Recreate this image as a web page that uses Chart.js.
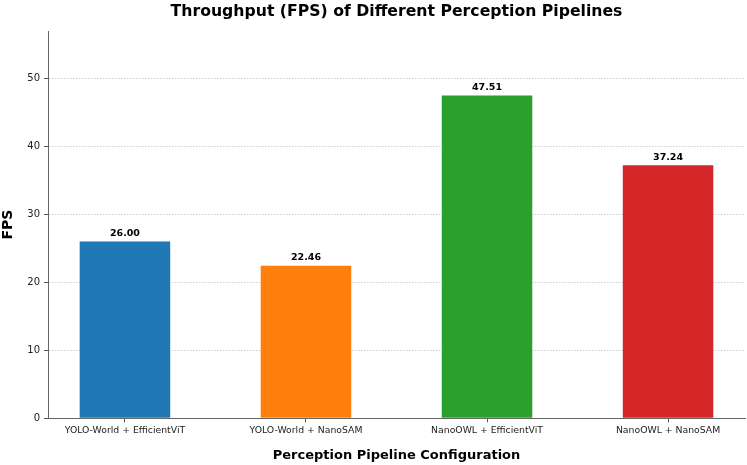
<!DOCTYPE html>
<html lang="en">
<head>
  <meta charset="UTF-8" />
  <title>Throughput (FPS) of Different Perception Pipelines</title>
  <script src="https://cdn.jsdelivr.net/npm/chart.js"></script>
  <style>
    html, body {
      margin: 0;
      padding: 0;
      background: #ffffff;
    }
    .chart-box {
      width: 747px;
      height: 465px;
    }
  </style>
</head>
<body>
  <div class="chart-box">
    <canvas id="fpsChart"></canvas>
  </div>

  <script>
    const pipelines = [
      'YOLO-World + EfficientViT',
      'YOLO-World + NanoSAM',
      'NanoOWL + EfficientViT',
      'NanoOWL + NanoSAM'
    ];
    const fpsValues = [26.00, 22.46, 47.51, 37.24];
    const barColors = ['#1f77b4', '#ff7f0e', '#2ca02c', '#d62728'];
    const yTicks = [0, 10, 20, 30, 40, 50];
    const chartTitle = 'Throughput (FPS) of Different Perception Pipelines';

    const FONT = "'DejaVu Sans', sans-serif";

    // value labels on top of each bar
    const valueLabels = {
      id: 'valueLabels',
      afterDatasetsDraw(chart) {
        const ctx = chart.ctx;
        const meta = chart.getDatasetMeta(0);
        ctx.save();
        ctx.font = 'bold 9.5px ' + FONT;
        ctx.fillStyle = '#000';
        ctx.textAlign = 'center';
        ctx.textBaseline = 'bottom';
        meta.data.forEach((bar, i) => {
          ctx.fillText(fpsValues[i].toFixed(2), bar.x, bar.y - 3);
        });
        ctx.restore();
      }
    };

    // title centred over the plot area, like matplotlib does
    const axesTitle = {
      id: 'axesTitle',
      afterDraw(chart) {
        const ctx = chart.ctx;
        const area = chart.chartArea;
        ctx.save();
        ctx.font = 'bold 15.7px ' + FONT;
        ctx.fillStyle = '#000';
        ctx.textAlign = 'center';
        ctx.textBaseline = 'middle';
        ctx.fillText(chartTitle, (area.left + area.right) / 2, 12);
        ctx.restore();
      }
    };

    new Chart(document.getElementById('fpsChart'), {
      type: 'bar',
      data: {
        datasets: [{
          data: fpsValues.map((v, i) => ({ x: i, y: v })),
          backgroundColor: barColors,
          borderWidth: 0,
          barPercentage: 0.5,
          categoryPercentage: 1.0
        }]
      },
      options: {
        responsive: true,
        maintainAspectRatio: false,
        animation: false,
        layout: { padding: { left: 0, right: 2, top: 31, bottom: 2 } },
        plugins: {
          legend: { display: false },
          tooltip: { enabled: false },
          title: { display: false }
        },
        scales: {
          x: {
            type: 'linear',
            min: -0.425,
            max: 3.425,
            offset: false,
            afterBuildTicks(axis) {
              axis.ticks = pipelines.map((_, i) => ({ value: i }));
            },
            ticks: {
              autoSkip: false,
              maxRotation: 0,
              color: '#222',
              font: { family: FONT, size: 9.3 },
              padding: 3,
              callback: (v) => pipelines[v]
            },
            grid: {
              offset: false,
              drawOnChartArea: false,
              drawTicks: true,
              tickLength: 4,
              tickColor: '#555'
            },
            border: { color: '#666', width: 1 },
            title: {
              display: true,
              text: 'Perception Pipeline Configuration',
              color: '#000',
              font: { family: FONT, size: 13, weight: 'bold' },
              padding: { top: 8, bottom: 0 }
            }
          },
          y: {
            min: 0,
            max: 57,
            afterBuildTicks(axis) {
              axis.ticks = yTicks.map(v => ({ value: v }));
            },
            afterFit(axis) {
              axis.width = 48;
            },
            ticks: {
              color: '#222',
              font: { family: FONT, size: 10 },
              padding: 4
            },
            grid: {
              color: '#cfcfcf',
              tickColor: '#555',
              tickBorderDash: [],
              tickLength: 4
            },
            border: { color: '#666', width: 1, dash: [1.5, 1.5] },
            title: {
              display: true,
              text: 'FPS',
              color: '#000',
              font: { family: FONT, size: 14, weight: 'bold' },
              padding: { top: 0, bottom: 4 }
            }
          }
        }
      },
      plugins: [valueLabels, axesTitle]
    });
  </script>
</body>
</html>
